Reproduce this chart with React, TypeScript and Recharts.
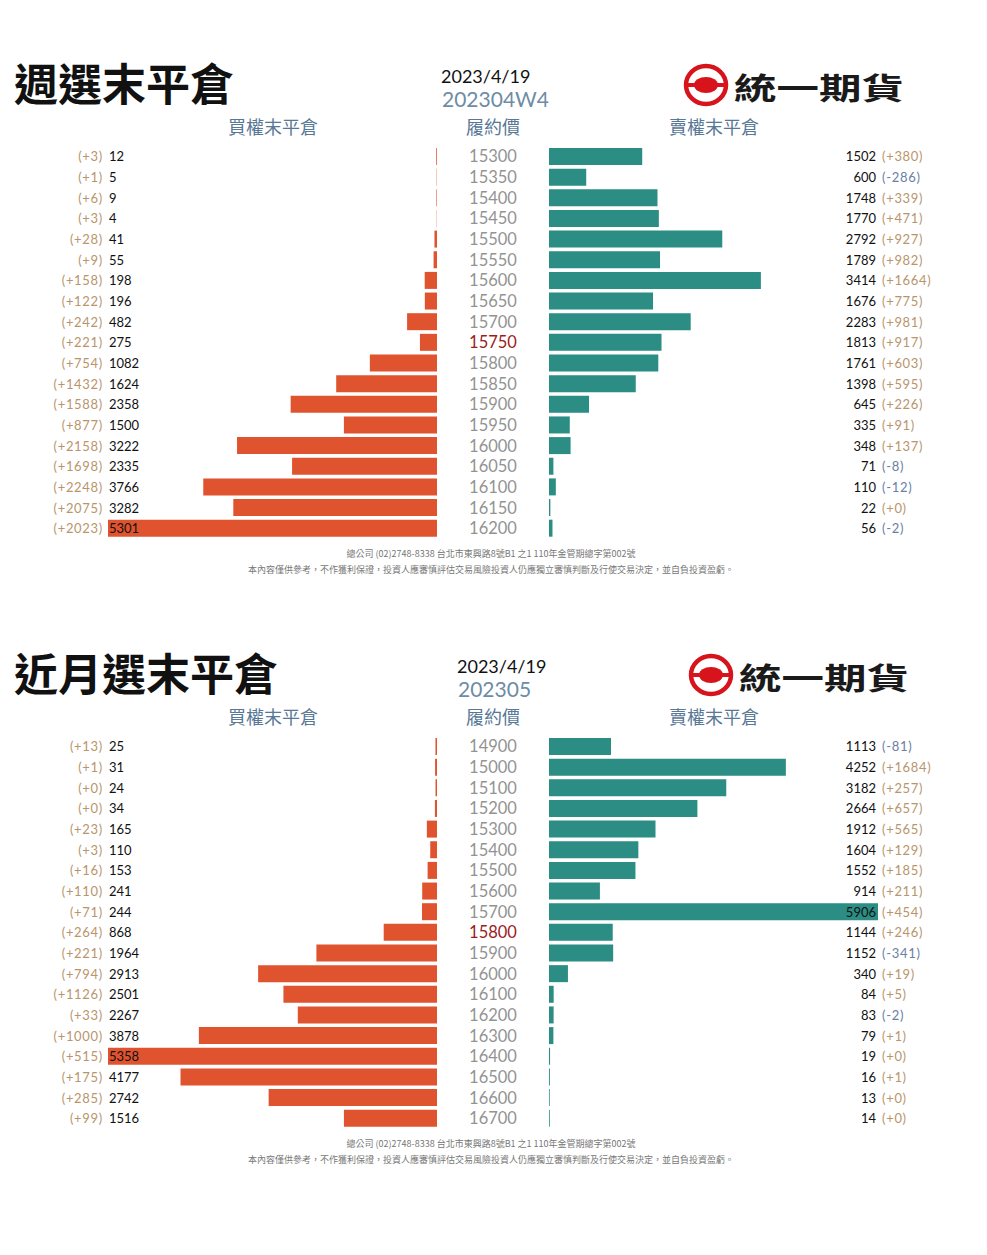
import React from "react";
import { Bar, BarChart, LabelList, XAxis, YAxis } from "recharts";

// 週選 (202304W4)
const weeklyStrikes = [15300, 15350, 15400, 15450, 15500, 15550, 15600, 15650, 15700, 15750, 15800, 15850, 15900, 15950, 16000, 16050, 16100, 16150, 16200];
const weeklyCallOI = [12, 5, 9, 4, 41, 55, 198, 196, 482, 275, 1082, 1624, 2358, 1500, 3222, 2335, 3766, 3282, 5301];
const weeklyCallChg = [3, 1, 6, 3, 28, 9, 158, 122, 242, 221, 754, 1432, 1588, 877, 2158, 1698, 2248, 2075, 2023];
const weeklyPutOI = [1502, 600, 1748, 1770, 2792, 1789, 3414, 1676, 2283, 1813, 1761, 1398, 645, 335, 348, 71, 110, 22, 56];
const weeklyPutChg = [380, -286, 339, 471, 927, 982, 1664, 775, 981, 917, 603, 595, 226, 91, 137, -8, -12, 0, -2];

// 近月 (202305)
const monthlyStrikes = [14900, 15000, 15100, 15200, 15300, 15400, 15500, 15600, 15700, 15800, 15900, 16000, 16100, 16200, 16300, 16400, 16500, 16600, 16700];
const monthlyCallOI = [25, 31, 24, 34, 165, 110, 153, 241, 244, 868, 1964, 2913, 2501, 2267, 3878, 5358, 4177, 2742, 1516];
const monthlyCallChg = [13, 1, 0, 0, 23, 3, 16, 110, 71, 264, 221, 794, 1126, 33, 1000, 515, 175, 285, 99];
const monthlyPutOI = [1113, 4252, 3182, 2664, 1912, 1604, 1552, 914, 5906, 1144, 1152, 340, 84, 83, 79, 19, 16, 13, 14];
const monthlyPutChg = [-81, 1684, 257, 657, 565, 129, 185, 211, 454, 246, -341, 19, 5, -2, 1, 0, 1, 0, 0];

const FOOTER_1 = "總公司 (02)2748-8338 台北市東興路8號B1 之1 110年金管期總字第002號";
const FOOTER_2 = "本內容僅供參考，不作獲利保證，投資人應審慎評估交易風險投資人仍應獨立審慎判斷及行使交易決定，並自負投資盈虧。";

const CJK = '"Noto Sans CJK TC", "Noto Sans CJK SC", sans-serif';
const NUM = 'Lato, "Open Sans", sans-serif';
const CALL_COLOR = "#e0532f";
const PUT_COLOR = "#2b8d84";
const POS = "#b8956c";
const NEG = "#6a80a3";
const HEAD = "#587896";

const ROW = 20.65;
const PLOT_H = ROW * 19;
const L_LEFT = 108;
const L_RIGHT = 437;
const R_LEFT = 549;
const R_RIGHT = 878;

const fmtChg = (v: number) => (v < 0 ? `(${v})` : `(+${v})`);

function Logo({ x, y }: { x: number; y: number }) {
  return (
    <g>
      <ellipse cx={x} cy={y} rx={20} ry={19} fill="#fff" stroke="#d7141c" strokeWidth={4.5} />
      <rect x={x - 18} y={y - 2} width={36} height={4} fill="#d7141c" />
      <ellipse cx={x} cy={y} rx={12} ry={8} fill="#d7141c" />
      <text x={x + 28} y={y + 1} dominantBaseline="central" fontFamily={CJK} fontWeight={700} fontSize={30} textLength={170} lengthAdjust="spacingAndGlyphs" fill="#1a1a1a">
        統一期貨
      </text>
    </g>
  );
}

function Panel(props: {
  top: number;
  title: string;
  date: string;
  code: string;
  dateX: number;
  logoX: number;
  atm: number;
  strikes: number[];
  callOI: number[];
  callChg: number[];
  putOI: number[];
  putChg: number[];
  leftMax: number;
  rightMax: number;
}) {
  const { top } = props;
  const rows = props.strikes.map((s, i) => ({
    strike: s,
    call: props.callOI[i],
    callChg: props.callChg[i],
    put: props.putOI[i],
    putChg: props.putChg[i],
  }));
  const plotTop = top + 156 - ROW / 2;

  return (
    <>
      <svg width={987} height={600} style={{ position: "absolute", left: 0, top }}>
        <text x={14} y={82} dominantBaseline="central" fontFamily={CJK} fontWeight={700} fontSize={44} fill="#111">
          {props.title}
        </text>
        <text x={props.dateX} y={76} dominantBaseline="central" fontFamily={NUM} fontSize={18} fill="#111">
          {props.date}
        </text>
        <text x={props.dateX + 1} y={98} dominantBaseline="central" fontFamily={NUM} fontSize={21} fill="#6d8ca6">
          {props.code}
        </text>
        <Logo x={props.logoX} y={85} />
        <text x={273} y={126} textAnchor="middle" dominantBaseline="central" fontFamily={CJK} fontSize={18} fill={HEAD}>
          買權末平倉
        </text>
        <text x={493} y={126} textAnchor="middle" dominantBaseline="central" fontFamily={CJK} fontSize={18} fill={HEAD}>
          履約價
        </text>
        <text x={714} y={126} textAnchor="middle" dominantBaseline="central" fontFamily={CJK} fontSize={18} fill={HEAD}>
          賣權末平倉
        </text>
        <text x={491} y={553} textAnchor="middle" dominantBaseline="central" fontFamily={CJK} fontSize={9} fill="#777">
          {FOOTER_1}
        </text>
        <text x={491} y={569} textAnchor="middle" dominantBaseline="central" fontFamily={CJK} fontSize={9} fill="#777">
          {FOOTER_2}
        </text>
      </svg>

      <div style={{ position: "absolute", left: 0, top: plotTop }}>
        <BarChart width={L_RIGHT + 3} height={PLOT_H} data={rows} layout="vertical" margin={{ top: 0, bottom: 0, left: L_LEFT, right: 3 }}>
          <XAxis type="number" hide reversed domain={[0, props.leftMax]} />
          <YAxis type="category" dataKey="strike" hide width={0} />
          <Bar dataKey="call" fill={CALL_COLOR} barSize={17} isAnimationActive={false}>
            <LabelList
              dataKey="callChg"
              content={(p: any) => (
                <text x={L_LEFT - 5} y={p.y + p.height / 2} textAnchor="end" dominantBaseline="central" fontFamily={NUM} fontSize={13} letterSpacing={0.7} fill={p.value < 0 ? NEG : POS}>
                  {fmtChg(p.value)}
                </text>
              )}
            />
            <LabelList
              dataKey="call"
              content={(p: any) => (
                <text x={L_LEFT + 1} y={p.y + p.height / 2} dominantBaseline="central" fontFamily={NUM} fontSize={13} fill="#111">
                  {p.value}
                </text>
              )}
            />
          </Bar>
        </BarChart>
      </div>

      <div style={{ position: "absolute", left: 0, top: plotTop }}>
        <BarChart width={987} height={PLOT_H} data={rows} layout="vertical" margin={{ top: 0, bottom: 0, left: R_LEFT, right: 987 - R_RIGHT }}>
          <XAxis type="number" hide domain={[0, props.rightMax]} />
          <YAxis type="category" dataKey="strike" hide width={0} />
          <Bar dataKey="put" fill={PUT_COLOR} barSize={17} isAnimationActive={false}>
            <LabelList
              dataKey="strike"
              content={(p: any) => (
                <text x={R_LEFT - 56} y={p.y + p.height / 2} textAnchor="middle" dominantBaseline="central" fontFamily={NUM} fontSize={16.5} fill={p.value === props.atm ? "#9a1c1c" : "#939393"}>
                  {p.value}
                </text>
              )}
            />
            <LabelList
              dataKey="put"
              content={(p: any) => (
                <text x={R_RIGHT - 2} y={p.y + p.height / 2} textAnchor="end" dominantBaseline="central" fontFamily={NUM} fontSize={13} fill="#111">
                  {p.value}
                </text>
              )}
            />
            <LabelList
              dataKey="putChg"
              content={(p: any) => (
                <text x={R_RIGHT + 4} y={p.y + p.height / 2} dominantBaseline="central" fontFamily={NUM} fontSize={13} letterSpacing={0.7} fill={p.value < 0 ? NEG : POS}>
                  {fmtChg(p.value)}
                </text>
              )}
            />
          </Bar>
        </BarChart>
      </div>
    </>
  );
}

export default function App() {
  return (
    <div style={{ position: "absolute", left: 0, top: 0, width: 987, height: 1255, background: "#fff", overflow: "hidden" }}>
      <Panel
        top={0}
        title="週選末平倉"
        date="2023/4/19"
        code="202304W4"
        dateX={441}
        logoX={706}
        atm={15750}
        strikes={weeklyStrikes}
        callOI={weeklyCallOI}
        callChg={weeklyCallChg}
        putOI={weeklyPutOI}
        putChg={weeklyPutChg}
        leftMax={Math.max(...weeklyCallOI)}
        rightMax={Math.max(...weeklyCallOI, ...weeklyPutOI)}
      />
      <Panel
        top={590}
        title="近月選末平倉"
        date="2023/4/19"
        code="202305"
        dateX={457}
        logoX={711}
        atm={15800}
        strikes={monthlyStrikes}
        callOI={monthlyCallOI}
        callChg={monthlyCallChg}
        putOI={monthlyPutOI}
        putChg={monthlyPutChg}
        leftMax={Math.max(...monthlyCallOI)}
        rightMax={Math.max(...monthlyPutOI)}
      />
    </div>
  );
}
